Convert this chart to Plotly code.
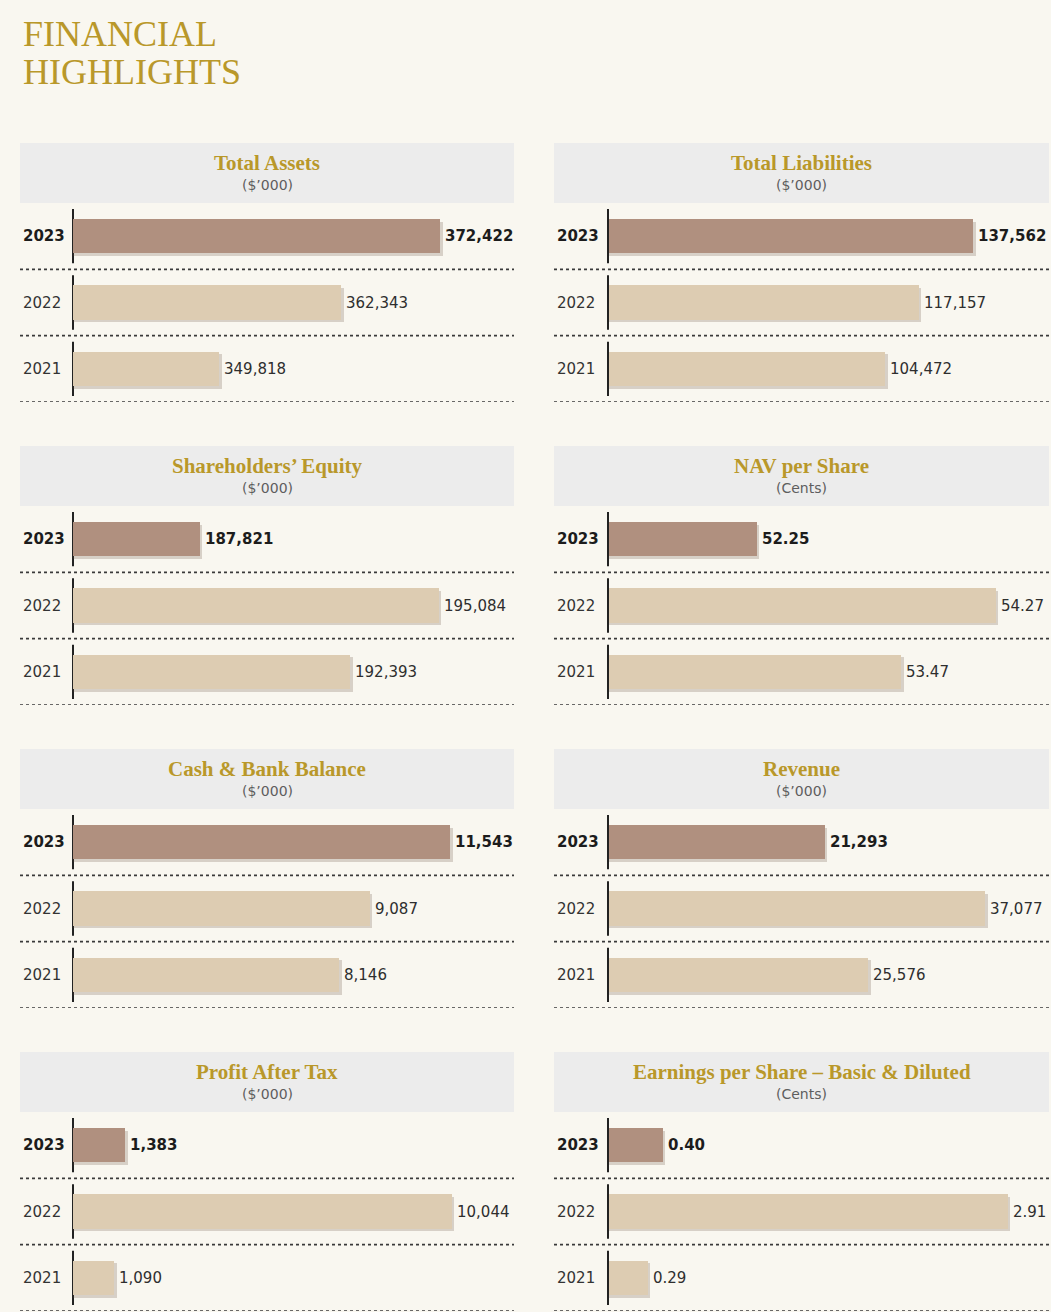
import plotly.graph_objects as go

# ---------------- data ----------------
years = ["2023", "2022", "2021"]
panel_titles = [
    "Total Assets", "Total Liabilities",
    "Shareholders’ Equity", "NAV per Share",
    "Cash & Bank Balance", "Revenue",
    "Profit After Tax", "Earnings per Share – Basic & Diluted",
]
panel_units = ["($’000)", "($’000)", "($’000)", "(Cents)",
               "($’000)", "($’000)", "($’000)", "(Cents)"]
total_assets = [372422, 362343, 349818]
total_liabilities = [137562, 117157, 104472]
shareholders_equity = [187821, 195084, 192393]
nav_per_share = [52.25, 54.27, 53.47]
cash_bank_balance = [11543, 9087, 8146]
revenue = [21293, 37077, 25576]
profit_after_tax = [1383, 10044, 1090]
earnings_per_share = [0.40, 2.91, 0.29]
series = [total_assets, total_liabilities, shareholders_equity, nav_per_share,
          cash_bank_balance, revenue, profit_after_tax, earnings_per_share]
decimals = [0, 0, 0, 2, 0, 0, 0, 2]

# axis ranges (value scale of each panel)
axis_ranges = [(334885, 379990), (0, 166200), (183962, 197364), (50.99, 54.72),
               (0, 13500), (0, 43370), (0, 11700), (0, 3.21)]

# ---------------- style / layout ----------------
W, H = 1051, 1312
BG = "#F9F7F0"
HEADER = "#ECECEC"
GOLD = "#B9982A"
DARK_BAR = "#B0907F"
LIGHT_BAR = "#DDCCB2"
SHADOW = "rgba(95,75,55,0.22)"


def fx(p):
    return p / W


def fy(p):
    return 1 - p / H


fig = go.Figure()
shapes = []
annotations = []

annotations.append(dict(text="FINANCIAL", xref="paper", yref="paper", x=fx(21), y=fy(34),
                        xanchor="left", yanchor="middle", showarrow=False,
                        font=dict(family="Liberation Serif", size=36, color=GOLD)))
annotations.append(dict(text="HIGHLIGHTS", xref="paper", yref="paper", x=fx(21), y=fy(72),
                        xanchor="left", yanchor="middle", showarrow=False,
                        font=dict(family="Liberation Serif", size=36, color=GOLD)))

bar_w = 0.52
for k in range(8):
    r, c = divmod(k, 2)
    n = k + 1
    xa = "x" if n == 1 else f"x{n}"
    ya = "y" if n == 1 else f"y{n}"
    hx0, hx1 = (20, 514) if c == 0 else (554, 1049)
    px0 = 73 if c == 0 else 608
    top = 143 + r * 303
    plot_top, plot_bot = top + 60, top + 259
    vals = series[k]
    lo, hi = axis_ranges[k]
    slope = (hi - lo) / (hx1 - px0)

    # soft shadow bars
    fig.add_trace(go.Bar(
        x=[v + 2.5 * slope for v in vals], y=years, orientation="h",
        width=bar_w, offset=-bar_w / 2 + 0.04,
        marker=dict(color=SHADOW, line=dict(width=0)),
        xaxis=xa, yaxis=ya, hoverinfo="skip", showlegend=False))
    # main bars
    fig.add_trace(go.Bar(
        x=vals, y=years, orientation="h", width=bar_w, offset=-bar_w / 2,
        marker=dict(color=[DARK_BAR, LIGHT_BAR, LIGHT_BAR], line=dict(width=0)),
        xaxis=xa, yaxis=ya, showlegend=False))

    axis_key = "xaxis" if n == 1 else f"xaxis{n}"
    yaxis_key = "yaxis" if n == 1 else f"yaxis{n}"
    fig.layout[axis_key] = dict(domain=[fx(px0), fx(hx1)], range=[lo, hi],
                                showgrid=False, zeroline=False, showticklabels=False,
                                showline=False, anchor=ya, fixedrange=True)
    fig.layout[yaxis_key] = dict(domain=[fy(plot_bot), fy(plot_top)], type="category",
                                 categoryorder="array", categoryarray=years,
                                 range=[2.5, -0.5], showgrid=False, zeroline=False,
                                 showticklabels=False, showline=False, anchor=xa,
                                 fixedrange=True)

    # header box
    shapes.append(dict(type="rect", xref="paper", yref="paper",
                       x0=fx(hx0), x1=fx(hx1), y0=fy(top + 60), y1=fy(top),
                       fillcolor=HEADER, line=dict(width=0), layer="below"))
    cx = fx((hx0 + hx1) / 2)
    annotations.append(dict(text=f"<b>{panel_titles[k]}</b>", xref="paper", yref="paper",
                            x=cx, y=fy(top + 20), xanchor="center", yanchor="middle",
                            showarrow=False,
                            font=dict(family="Liberation Serif", size=21, color=GOLD)))
    annotations.append(dict(text=panel_units[k], xref="paper", yref="paper",
                            x=cx, y=fy(top + 42), xanchor="center", yanchor="middle",
                            showarrow=False,
                            font=dict(family="DejaVu Sans", size=14, color="#5e5e5e")))

    # dotted separators
    for b in (0.5, 1.5, 2.5):
        shapes.append(dict(type="line", xref="paper", yref=ya,
                           x0=fx(hx0), x1=fx(hx1), y0=b, y1=b,
                           line=dict(color="#3a3a3a", width=1.6, dash="dot")))
    # axis segments
    for i in range(3):
        shapes.append(dict(type="line", xref=f"{xa} domain", yref=ya,
                           x0=0, x1=0, y0=i - 0.41, y1=i + 0.41,
                           line=dict(color="#222222", width=2),
                           layer="below" if c == 0 else "above"))

    # year labels and value labels (category axis -> serial index)
    for i, yr in enumerate(years):
        bold = i == 0
        annotations.append(dict(text=f"<b>{yr}</b>" if bold else yr,
                                xref="paper", yref=ya, x=fx(hx0 + 1), y=i,
                                xanchor="left", yanchor="middle", showarrow=False,
                                font=dict(family="DejaVu Sans", size=15,
                                          color="#1c1c1c" if bold else "#333333")))
        v = vals[i]
        label = f"{v:,.{decimals[k]}f}"
        annotations.append(dict(text=f"<b>{label}</b>" if bold else label,
                                xref=xa, yref=ya, x=v, y=i, xshift=3,
                                xanchor="left", yanchor="middle", showarrow=False,
                                font=dict(family="DejaVu Sans", size=15,
                                          color="#1c1c1c" if bold else "#2e2e2e")))

fig.update_layout(
    width=W, height=H,
    margin=dict(l=0, r=0, t=0, b=0),
    paper_bgcolor=BG, plot_bgcolor="rgba(0,0,0,0)",
    barmode="overlay", bargap=0,
    shapes=shapes, annotations=annotations,
    showlegend=False,
)

fig.write_html("out.html")
